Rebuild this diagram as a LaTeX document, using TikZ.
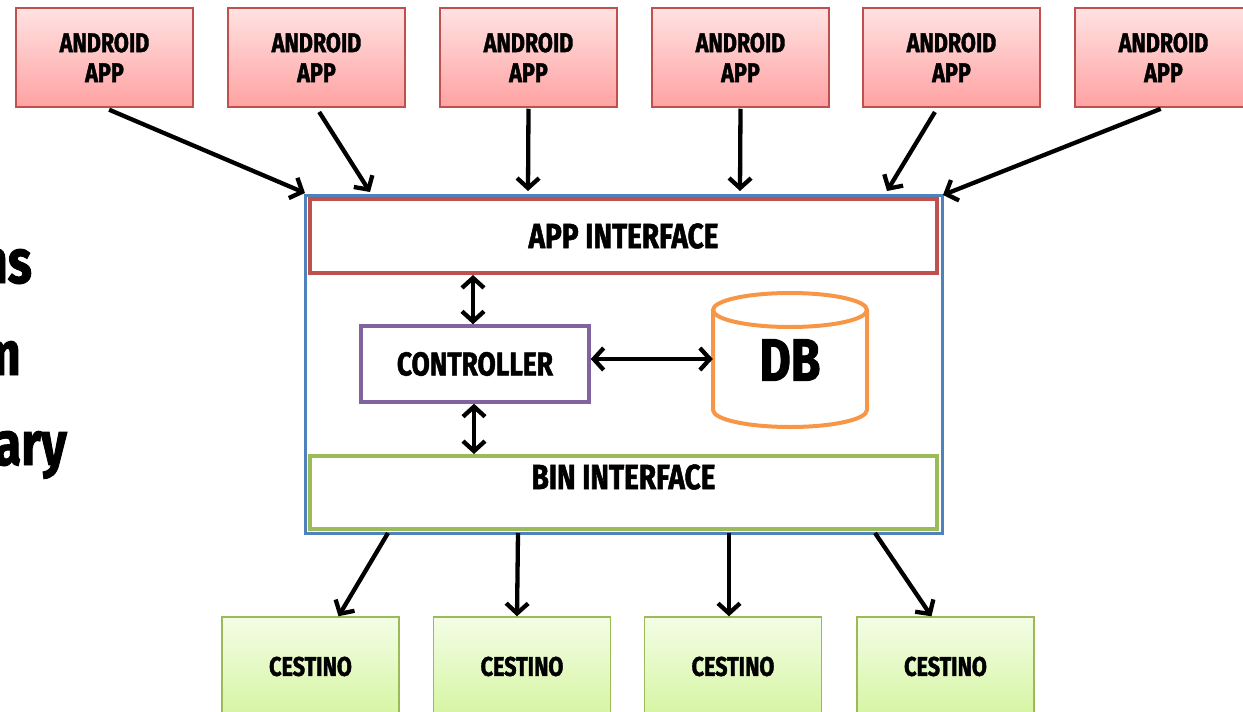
\documentclass[tikz,border=0pt]{standalone}
\usepackage{fontspec}
\newfontfamily\cf{Fira Sans}[FakeStretch=0.8,BoldFeatures={FakeBold=1.5}]
\usetikzlibrary{arrows.meta,calc}
\definecolor{pinkb}{HTML}{C0504D}
\definecolor{pinkt}{HTML}{FFE2E2}
\definecolor{pinkd}{HTML}{FFA2A2}
\definecolor{greenb}{HTML}{9BBB59}
\definecolor{greent}{HTML}{F3FDE6}
\definecolor{greend}{HTML}{D6F5A2}
\definecolor{frameblue}{HTML}{4F81BD}
\definecolor{ctrlpurple}{HTML}{8064A2}
\definecolor{dborange}{HTML}{F79646}
\tikzset{
  appbox/.style={draw=pinkb,line width=1.5pt,top color=pinkt,bottom color=pinkd,
    minimum width=177,minimum height=99,inner sep=0pt,align=center,
    font=\cf\bfseries\fontsize{27}{30}\selectfont},
  binbox/.style={draw=greenb,line width=1.5pt,top color=greent,bottom color=greend,
    minimum width=177,minimum height=99,inner sep=0pt,
    font=\cf\bfseries\fontsize{27}{30}\selectfont},
  conn/.style={line width=4.3pt,-{Straight Barb[length=10pt,width=22pt]}},
  dconn/.style={line width=4.3pt,{Straight Barb[length=10pt,width=22pt]}-{Straight Barb[length=10pt,width=22pt]}},
  lefttxt/.style={anchor=base east,inner sep=0pt,font=\cf\bfseries\fontsize{62}{62}\selectfont},
}
\begin{document}
\begin{tikzpicture}[x=1pt,y=-1pt]
\useasboundingbox (0,0) rectangle (1243,712);
% top boxes
\node[appbox] (a1) at (104.5,57.5) {ANDROID\\APP};
\node[appbox] (a2) at (316.5,57.5) {ANDROID\\APP};
\node[appbox] (a3) at (528.5,57.5) {ANDROID\\APP};
\node[appbox] (a4) at (740.5,57.5) {ANDROID\\APP};
\node[appbox] (a5) at (951.5,57.5) {ANDROID\\APP};
\node[appbox] (a6) at (1163.5,57.5) {ANDROID\\APP};
% bottom boxes
\node[binbox] (c1) at (310.5,666.5) {CESTINO};
\node[binbox] (c2) at (522,666.5) {CESTINO};
\node[binbox] (c3) at (733,666.5) {CESTINO};
\node[binbox] (c4) at (945.5,666.5) {CESTINO};
% main frame
\node[draw=frameblue,line width=3pt,minimum width=637,minimum height=338,inner sep=0pt] (frame) at (623.5,364) {};
\node[draw=pinkb,line width=4pt,minimum width=627,minimum height=74,inner sep=0pt,
  font=\cf\bfseries\fontsize{35}{35}\selectfont] (appif) at (623.5,236) {APP INTERFACE};
\node[draw=greenb,line width=4pt,minimum width=627,minimum height=73,inner sep=0pt] (binif) at (623.5,492.5) {};
\node[inner sep=0pt,font=\cf\bfseries\fontsize{35}{35}\selectfont] (bintxt) at (623.5,477) {BIN INTERFACE};
\node[draw=ctrlpurple,line width=3.5pt,minimum width=228,minimum height=76,inner sep=0pt,
  font=\cf\bfseries\fontsize{33}{33}\selectfont] (ctrl) at (475,364) {CONTROLLER};
% DB cylinder
\node[minimum width=154,minimum height=135,inner sep=0pt,
  font=\cf\bfseries\fontsize{60}{60}\selectfont] (db) at (790,360) {DB};
\draw[dborange,line width=4pt] (790,310) ellipse [x radius=77,y radius=17];
\draw[dborange,line width=4pt] (713,310) -- (713,410) arc[start angle=180,end angle=0,x radius=77,y radius=17] -- (867,310);
% coordinates on frame
\coordinate (t1) at (305,193);
\coordinate (t2) at (370,192);
\coordinate (t3) at (528,191);
\coordinate (t4) at (740,191);
\coordinate (t5) at (887,191);
\coordinate (t6) at (943,195);
\coordinate (b1) at (388,533);
\coordinate (b2) at (518,533);
\coordinate (b3) at (729,533);
\coordinate (b4) at (875,533);
% arrows from apps
\draw[conn,shorten <=5pt] (a1.south) -- (t1);
\draw[conn,shorten <=5pt] (a2.south) -- (t2);
\draw[conn,shorten <=1pt] (a3.south) -- (t3);
\draw[conn,shorten <=1pt] (a4.south) -- (t4);
\draw[conn,shorten <=5pt] ([xshift=-14pt]a5.south) -- (t5);
\draw[conn,shorten <=3pt] (a6.south) -- (t6);
% arrows to bins
\draw[conn] (b1) -- ([xshift=28pt]c1.north);
\draw[conn] (b2) -- ([xshift=-5pt]c2.north);
\draw[conn] (b3) -- ([xshift=-4pt]c3.north);
\draw[conn] (b4) -- ([xshift=-14pt]c4.north);
% internal arrows
\draw[dconn] ([xshift=-2pt]ctrl.north) -- ([xshift=-2pt]ctrl.north |- appif.south);
\draw[dconn] ([xshift=-1pt]ctrl.south) -- ([xshift=-1pt]ctrl.south |- binif.north);
\draw[dconn] ([yshift=5pt]ctrl.east) -- ([yshift=5pt]ctrl.east -| db.west);
% left partial text
\node[lefttxt] (l1) at (32,283) {ns};
\node[lefttxt] (l2) at (21,375) {m};
\node[lefttxt] (l3) at (67,465) {ary};
\end{tikzpicture}
\end{document}
